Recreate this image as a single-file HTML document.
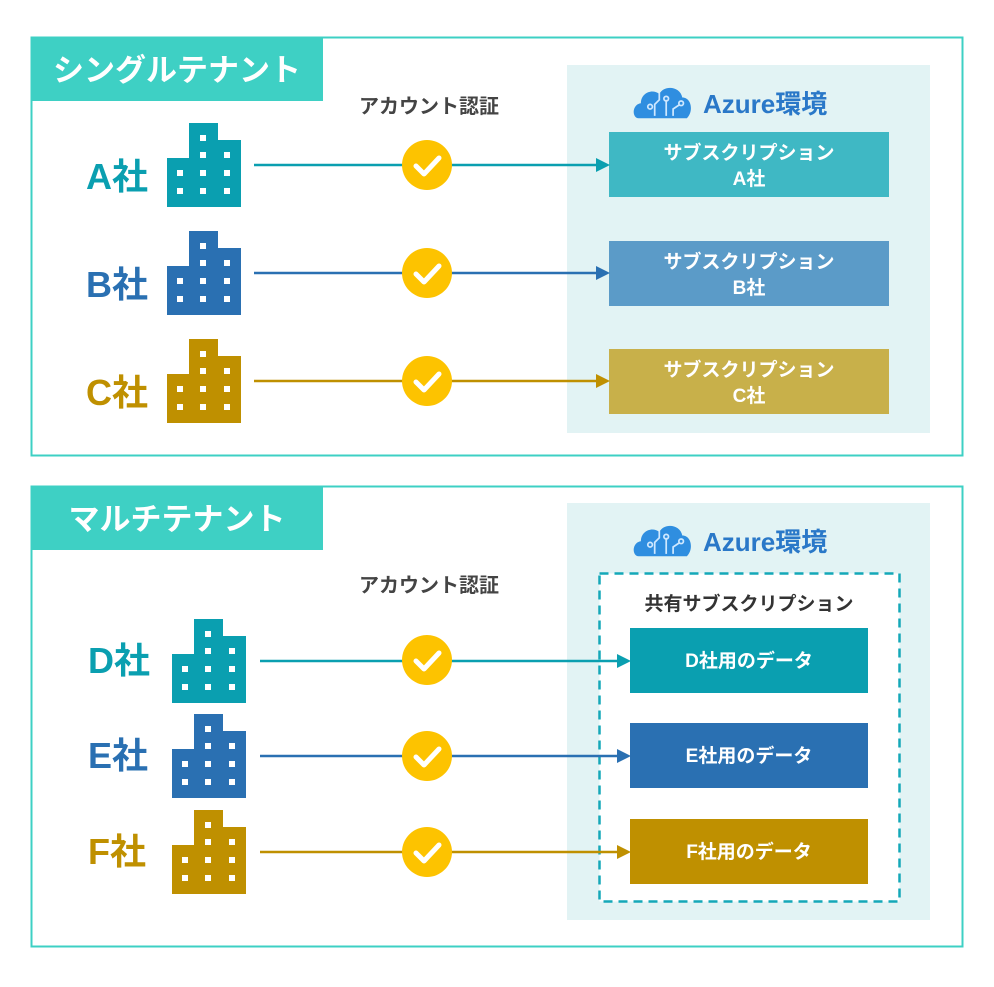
<!DOCTYPE html>
<html><head><meta charset="utf-8"><style>
html,body{margin:0;padding:0;background:#fff;}
svg{display:block;}
text{font-family:"Liberation Sans","Noto Sans CJK JP",sans-serif;font-weight:bold;}
</style></head><body>
<svg width="994" height="987" viewBox="0 0 994 987" xmlns="http://www.w3.org/2000/svg">
<defs>
<g id="bld">
<rect x="22" y="0" width="29" height="84"/>
<rect x="0" y="35" width="74" height="49"/>
<rect x="51" y="17" width="23" height="67"/>
<g fill="#fff">
<rect x="33" y="12" width="6" height="6"/>
<rect x="33" y="29" width="6" height="6"/><rect x="57" y="29" width="6" height="6"/>
<rect x="10" y="47" width="6" height="6"/><rect x="33" y="47" width="6" height="6"/><rect x="57" y="47" width="6" height="6"/>
<rect x="10" y="65" width="6" height="6"/><rect x="33" y="65" width="6" height="6"/><rect x="57" y="65" width="6" height="6"/>
</g>
</g>
<g id="chk">
<circle cx="0" cy="0" r="25" fill="#fdc300"/>
<path d="M-11,1 L-3,9 L12,-7" fill="none" stroke="#fff" stroke-width="5" stroke-linecap="round" stroke-linejoin="round"/>
</g>
<g id="cloud">
<path d="M4,28 C-2,28 -2,16 6,15 C6,6 16,2 22,7 C26,-1 40,0 42,10 C50,10 52,22 46,28 Z" fill="#2f8ee0"/>
<g stroke="#cfe8ff" stroke-width="1.5" fill="none">
<path d="M18,26 V16 L22,12 V6"/><path d="M28,26 V12"/><path d="M34,26 V20 L40,16"/>
<circle cx="14" cy="18" r="2"/><circle cx="28" cy="11" r="2"/><circle cx="41" cy="15" r="2"/>
</g>
</g>
</defs>

<!-- Frame 1 -->
<rect x="31.5" y="37.5" width="931" height="418" fill="#fff" stroke="#3ed0c4" stroke-width="2"/>
<rect x="31" y="37" width="292" height="64" fill="#3ed0c4"/>
<text x="177" y="81" font-size="31" fill="#fff" text-anchor="middle">シングルテナント</text>
<rect x="567" y="65" width="363" height="368" fill="#e2f3f4"/>
<use href="#cloud" transform="translate(634,86) scale(1.15)"/>
<text x="703" y="113" font-size="26" fill="#2a78c8" font-weight="normal">Azure環境</text>
<text x="429" y="113" font-size="20" fill="#444" text-anchor="middle">アカウント認証</text>

<rect x="609" y="132" width="280" height="65" fill="#3fb8c4"/>
<text x="749" y="159" font-size="19" fill="#fff" text-anchor="middle">サブスクリプション</text>
<text x="749" y="185" font-size="19" fill="#fff" text-anchor="middle">A社</text>
<rect x="609" y="241" width="280" height="65" fill="#5b9bc8"/>
<text x="749" y="268" font-size="19" fill="#fff" text-anchor="middle">サブスクリプション</text>
<text x="749" y="294" font-size="19" fill="#fff" text-anchor="middle">B社</text>
<rect x="609" y="349" width="280" height="65" fill="#c8b04a"/>
<text x="749" y="376" font-size="19" fill="#fff" text-anchor="middle">サブスクリプション</text>
<text x="749" y="402" font-size="19" fill="#fff" text-anchor="middle">C社</text>

<text x="86" y="189" font-size="36" fill="#0a9fb0">A社</text>
<text x="86" y="297" font-size="36" fill="#2a70b2">B社</text>
<text x="86" y="405" font-size="36" fill="#bf9000">C社</text>
<use href="#bld" x="167" y="123" fill="#0a9fb0"/>
<use href="#bld" x="167" y="231" fill="#2a70b2"/>
<use href="#bld" x="167" y="339" fill="#bf9000"/>

<line x1="254" y1="165" x2="598" y2="165" stroke="#0a9fb0" stroke-width="2.5"/>
<path d="M596,158 L610,165 L596,172Z" fill="#0a9fb0"/>
<line x1="254" y1="273" x2="598" y2="273" stroke="#2a70b2" stroke-width="2.5"/>
<path d="M596,266 L610,273 L596,280Z" fill="#2a70b2"/>
<line x1="254" y1="381" x2="598" y2="381" stroke="#bf9000" stroke-width="2.5"/>
<path d="M596,374 L610,381 L596,388Z" fill="#bf9000"/>
<use href="#chk" x="427" y="165"/>
<use href="#chk" x="427" y="273"/>
<use href="#chk" x="427" y="381"/>

<!-- Frame 2 -->
<rect x="31.5" y="486.5" width="931" height="460" fill="#fff" stroke="#3ed0c4" stroke-width="2"/>
<rect x="31" y="486" width="292" height="64" fill="#3ed0c4"/>
<text x="177" y="530" font-size="31" fill="#fff" text-anchor="middle">マルチテナント</text>
<rect x="567" y="503" width="363" height="417" fill="#e2f3f4"/>
<use href="#cloud" transform="translate(634,524) scale(1.15)"/>
<text x="703" y="551" font-size="26" fill="#2a78c8" font-weight="normal">Azure環境</text>
<text x="429" y="592" font-size="20" fill="#444" text-anchor="middle">アカウント認証</text>

<rect x="599.5" y="573.5" width="300" height="328" fill="#fff" stroke="#14a8b8" stroke-width="2.5" stroke-dasharray="9,6"/>
<text x="749" y="610" font-size="19" fill="#333" text-anchor="middle">共有サブスクリプション</text>
<rect x="630" y="628" width="238" height="65" fill="#0a9fb0"/>
<text x="749" y="667" font-size="19" fill="#fff" text-anchor="middle">D社用のデータ</text>
<rect x="630" y="723" width="238" height="65" fill="#2a70b2"/>
<text x="749" y="762" font-size="19" fill="#fff" text-anchor="middle">E社用のデータ</text>
<rect x="630" y="819" width="238" height="65" fill="#bf9000"/>
<text x="749" y="858" font-size="19" fill="#fff" text-anchor="middle">F社用のデータ</text>

<text x="88" y="673" font-size="36" fill="#0a9fb0">D社</text>
<text x="88" y="768" font-size="36" fill="#2a70b2">E社</text>
<text x="88" y="864" font-size="36" fill="#bf9000">F社</text>
<use href="#bld" x="172" y="619" fill="#0a9fb0"/>
<use href="#bld" x="172" y="714" fill="#2a70b2"/>
<use href="#bld" x="172" y="810" fill="#bf9000"/>

<line x1="260" y1="661" x2="619" y2="661" stroke="#0a9fb0" stroke-width="2.5"/>
<path d="M617,654 L631,661 L617,668Z" fill="#0a9fb0"/>
<line x1="260" y1="756" x2="619" y2="756" stroke="#2a70b2" stroke-width="2.5"/>
<path d="M617,749 L631,756 L617,763Z" fill="#2a70b2"/>
<line x1="260" y1="852" x2="619" y2="852" stroke="#bf9000" stroke-width="2.5"/>
<path d="M617,845 L631,852 L617,859Z" fill="#bf9000"/>
<use href="#chk" x="427" y="660"/>
<use href="#chk" x="427" y="756"/>
<use href="#chk" x="427" y="852"/>
</svg>
</body></html>
